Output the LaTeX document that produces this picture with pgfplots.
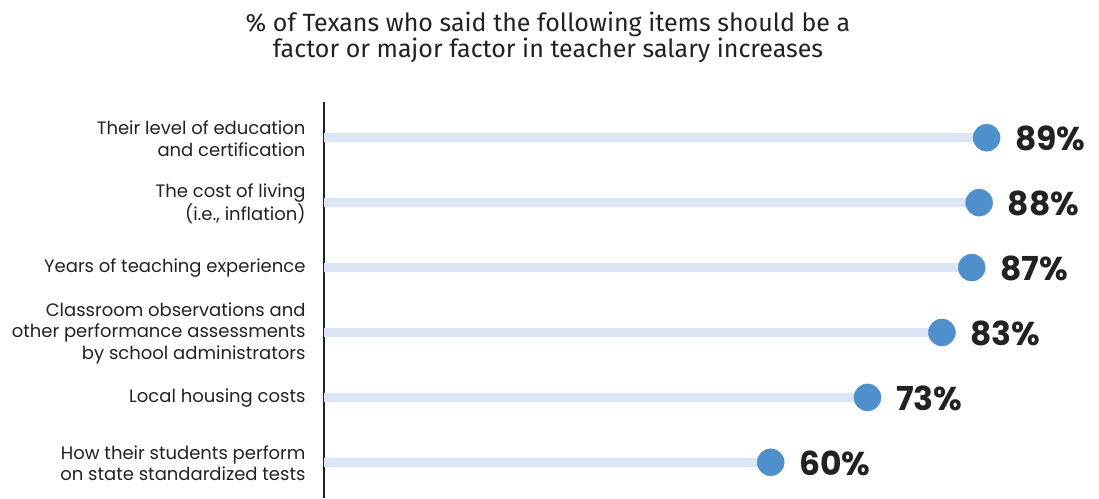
\documentclass[border=0pt]{standalone}
\usepackage{pgfplots}
\pgfplotsset{compat=1.18}
\usepackage{fontspec}
\setmainfont{Poppins}
\newfontfamily\titlefont{Fira Sans}
\newfontfamily\valfont{Poppins}[BoldFont={* Bold}]
\definecolor{dotblue}{HTML}{4F90CC}
\definecolor{barblue}{HTML}{DCE5F5}
\definecolor{txt}{HTML}{222222}
\begin{document}
\begin{tikzpicture}[x=1pt,y=1pt]
\useasboundingbox (0,0) rectangle (1099,498);
\node[font=\titlefont\fontsize{25}{26}\selectfont, align=center, text=txt] at (548,461)
  {\% of Texans who said the following items should be a\\factor or major factor in teacher salary increases};
\begin{axis}[
  at={(324pt,0pt)}, anchor=south west,
  scale only axis, width=744.5pt, height=396pt,
  xmin=0, xmax=100,
  ymin=-0.55, ymax=5.55, y dir=reverse,
  axis x line=none,
  axis y line=left,
  y axis line style={-, line width=1.6pt, color=txt},
  ytick={0,1,2,3,4,5},
  yticklabels={{Their level of education\\and certification},
    {The cost of living\\(i.e., inflation)},
    {Years of teaching experience},
    {Classroom observations and\\other performance assessments\\by school administrators},
    {Local housing costs},
    {How their students perform\\on state standardized tests}},
  yticklabel style={align=right, font=\fontsize{18}{21.5}\selectfont, text=txt, xshift=-15pt, yshift=-1pt},
  major tick length=0pt,
  clip=false,
]
\addplot[xbar, bar width=9pt, fill=barblue, draw=none, bar shift=0pt] coordinates {
  (89,0) (88,1) (87,2) (83,3) (73,4) (60,5)};
\addplot[only marks, mark=*, mark size=13.5pt, color=dotblue,
  nodes near coords={\pgfplotspointmeta\%},
  point meta=explicit symbolic,
  every node near coord/.append style={anchor=west, xshift=25pt, yshift=-1pt,
    font=\valfont\bfseries\fontsize{33}{33}\selectfont, text=txt}] coordinates {
  (89,0) [89] (88,1) [88] (87,2) [87] (83,3) [83] (73,4) [73] (60,5) [60]};
\end{axis}
\end{tikzpicture}
\end{document}
